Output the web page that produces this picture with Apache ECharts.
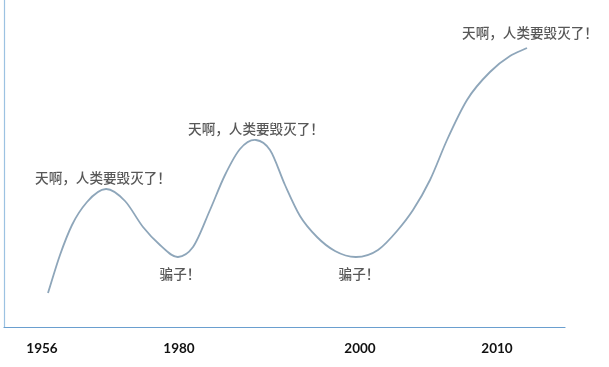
<!DOCTYPE html>
<html>
<head>
<meta charset="utf-8">
<script src="https://cdn.jsdelivr.net/npm/echarts@6/dist/echarts.min.js"></script>
<style>html,body{margin:0;padding:0;background:#fff;}#c{width:609px;height:367px;}</style>
</head>
<body>
<div id="c"></div>
<script>
// Curve (arbitrary horizontal progress units / height units)
const curveX = [44,56,68,83,102,121,139,156,174,189,206,221,236,252,266,281,296,313,331,352,374,393,409,426,443,463,486,506,523];
const curveY = [34,72,102,125,138,126,100,82,70,80,117,152,178,187,177,142,111,90,76,70,77,96,117,147,187,227,255,271,279];

// Year tick labels and where they sit on the progress axis
const yearLabels = ['1956', '1980', '2000', '2010'];
const yearAt = [38, 175, 356, 493];

// Annotations
const panicText = '天啊，人类要毁灭了！';
const liarText = '骗子！';
const noteX = [99, 252, 526, 176, 355];
const noteY = [138, 187, 279, 70, 70];
const noteText = [panicText, panicText, panicText, liarText, liarText];
const notePos = ['top', 'top', 'top', 'bottom', 'bottom'];
const noteDist = [4, 4, 8, 10, 10];

const chart = echarts.init(document.getElementById('c'), null, {renderer: 'canvas'});
const lineData = curveX.map((x, i) => [x, curveY[i]]);
const noteData = noteX.map((x, i) => ({
  value: [x, noteY[i]],
  label: {position: notePos[i], distance: noteDist[i], formatter: noteText[i]}
}));

// Smooth cubic Hermite path y(x) through the data points, mapped via the axes
function renderCurve(params, api) {
  if (params.dataIndex !== 0) return null;
  const p = curveX.map((x, i) => api.coord([x, curveY[i]]));
  const n = p.length;
  const h = [], d = [];
  for (let i = 0; i < n - 1; i++) {
    h.push(p[i + 1][0] - p[i][0]);
    d.push((p[i + 1][1] - p[i][1]) / h[i]);
  }
  const m = [];
  for (let i = 0; i < n; i++) {
    if (i === 0) m.push(d[0]);
    else if (i === n - 1) m.push(d[n - 2]);
    else m.push((h[i - 1] * d[i] + h[i] * d[i - 1]) / (h[i - 1] + h[i]));
  }
  let path = 'M' + p[0][0] + ' ' + p[0][1];
  for (let i = 0; i < n - 1; i++) {
    const t = h[i] / 3;
    path += ' C' + (p[i][0] + t) + ' ' + (p[i][1] + m[i] * t) + ' ' +
      (p[i + 1][0] - t) + ' ' + (p[i + 1][1] - m[i + 1] * t) + ' ' +
      p[i + 1][0] + ' ' + p[i + 1][1];
  }
  return {
    type: 'path',
    shape: {pathData: path},
    style: {fill: 'none', stroke: '#8ea6ba', lineWidth: 1.8}
  };
}

chart.setOption({
  animation: false,
  backgroundColor: '#ffffff',
  grid: {left: 4, right: 44, top: 0, bottom: 40, containLabel: false},
  xAxis: {
    type: 'value', min: 0, max: 561,
    axisLine: {show: true, onZero: false, lineStyle: {color: '#6a9fcf', width: 1.2}},
    axisTick: {show: false},
    splitLine: {show: false},
    axisLabel: {
      customValues: yearAt,
      formatter: function (v) { const i = yearAt.indexOf(v); return i >= 0 ? yearLabels[i] : ''; },
      margin: 15, color: '#111', fontSize: 13.5, fontFamily: 'Lato', fontWeight: 'bold'
    }
  },
  yAxis: {
    type: 'value', min: 0, max: 327,
    axisLine: {show: true, onZero: false, lineStyle: {color: '#9cc2e2', width: 1.2}},
    axisTick: {show: false},
    axisLabel: {show: false},
    splitLine: {show: false}
  },
  series: [
    {
      type: 'custom',
      data: lineData,
      encode: {x: 0, y: 1},
      renderItem: renderCurve,
      clip: false
    },
    {
      type: 'scatter',
      data: noteData,
      symbolSize: 0,
      label: {
        show: true,
        color: '#2e2e2e',
        fontSize: 13.6,
        fontWeight: 500,
        fontFamily: '"Noto Sans CJK SC", sans-serif'
      }
    }
  ]
});
</script>
</body>
</html>
